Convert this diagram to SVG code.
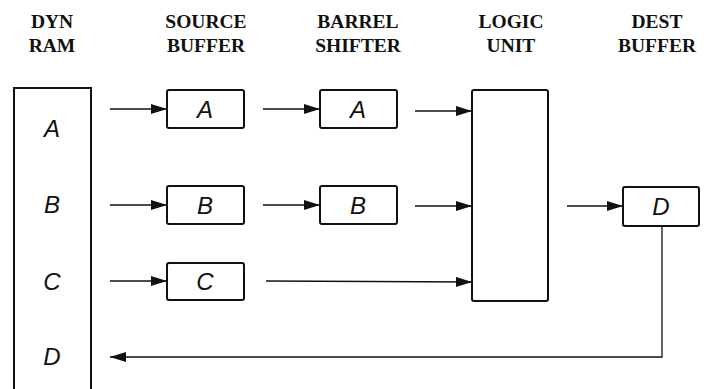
<svg xmlns="http://www.w3.org/2000/svg" width="707" height="389" viewBox="0 0 707 389">
<style>
.hdr{font-family:"Liberation Serif","Times New Roman",serif;font-weight:bold;font-size:19.5px;fill:#111;text-anchor:middle}
.box{fill:#fff;stroke:#111;stroke-width:2}
.lbl{font-family:"Liberation Sans",Arial,sans-serif;font-style:italic;font-size:24px;fill:#111;text-anchor:middle}
.con{fill:none;stroke:#111;stroke-width:1.3}
</style>
<defs>
<marker id="ah" markerUnits="userSpaceOnUse" markerWidth="17" markerHeight="11" refX="16" refY="5" orient="auto">
<path d="M0,0 L16,5 L0,10 z" fill="#111"/>
</marker>
</defs>
<rect width="707" height="389" fill="#fff"/>
<g id="headers">
<text class="hdr" x="52" y="28">DYN</text><text class="hdr" x="52" y="52">RAM</text>
<text class="hdr" x="206" y="28">SOURCE</text><text class="hdr" x="206" y="52">BUFFER</text>
<text class="hdr" x="358" y="28">BARREL</text><text class="hdr" x="358" y="52">SHIFTER</text>
<text class="hdr" x="511" y="28">LOGIC</text><text class="hdr" x="511" y="52">UNIT</text>
<text class="hdr" x="657" y="28">DEST</text><text class="hdr" x="657" y="52">BUFFER</text>
</g>
<g id="dynram">
<rect class="box" x="14" y="88" width="77" height="320"/>
<text class="lbl" x="52" y="137">A</text>
<text class="lbl" x="52" y="213">B</text>
<text class="lbl" x="52" y="290">C</text>
<text class="lbl" x="52" y="365">D</text>
</g>
<g id="srcA"><rect class="box" x="167" y="90" width="77" height="38" rx="2"/><text class="lbl" x="205" y="118">A</text></g>
<g id="srcB"><rect class="box" x="167" y="186" width="77" height="38" rx="2"/><text class="lbl" x="205" y="214">B</text></g>
<g id="srcC"><rect class="box" x="167" y="263" width="77" height="37" rx="2"/><text class="lbl" x="205" y="290">C</text></g>
<g id="barA"><rect class="box" x="320" y="90" width="77" height="38" rx="2"/><text class="lbl" x="358" y="118">A</text></g>
<g id="barB"><rect class="box" x="320" y="186" width="77" height="38" rx="2"/><text class="lbl" x="358" y="214">B</text></g>
<g id="logic"><rect class="box" x="472" y="90" width="76" height="211" rx="2"/></g>
<g id="destD"><rect class="box" x="623" y="187" width="76" height="39" rx="2"/><text class="lbl" x="661" y="215">D</text></g>
<g id="connectors">
<line class="con" x1="110" y1="109" x2="167" y2="109" marker-end="url(#ah)"/>
<line class="con" x1="263" y1="109" x2="320" y2="109" marker-end="url(#ah)"/>
<line class="con" x1="415" y1="111" x2="472" y2="111" marker-end="url(#ah)"/>
<line class="con" x1="110" y1="205" x2="167" y2="205" marker-end="url(#ah)"/>
<line class="con" x1="263" y1="205" x2="320" y2="205" marker-end="url(#ah)"/>
<line class="con" x1="415" y1="206" x2="472" y2="206" marker-end="url(#ah)"/>
<line class="con" x1="110" y1="281" x2="167" y2="281" marker-end="url(#ah)"/>
<line class="con" x1="266" y1="281" x2="472" y2="282" marker-end="url(#ah)"/>
<line class="con" x1="567" y1="206" x2="623" y2="206" marker-end="url(#ah)"/>
<path class="con" d="M662,226 V357 H110" marker-end="url(#ah)"/>
</g>
</svg>
